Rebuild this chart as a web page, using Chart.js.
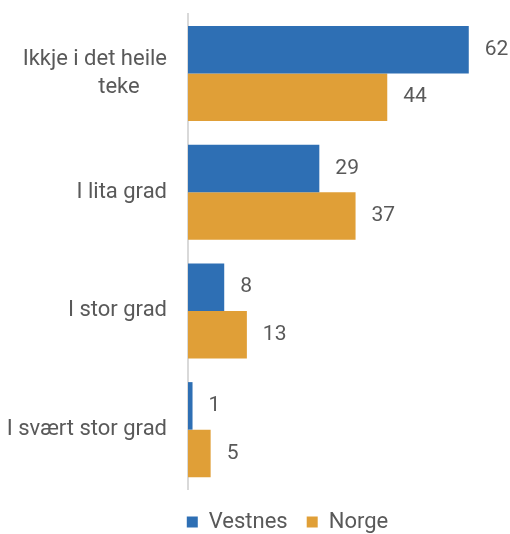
<!DOCTYPE html>
<html>
<head>
<meta charset="utf-8">
<script src="https://cdn.jsdelivr.net/npm/chart.js@4/dist/chart.umd.min.js"></script>
<style>
  html, body { margin: 0; padding: 0; background: #fff; }
  #wrap { width: 510px; height: 534px; }
</style>
</head>
<body>
<div id="wrap"><canvas id="chart" width="510" height="534"></canvas></div>
<script>
// values
// (second line of first label padded so the two lines sit centred on each other)
const categories = [["Ikkje i det heile", "teke\u00a0\u00a0\u00a0\u00a0\u00a0"], "I lita grad", "I stor grad", "I svært stor grad"];
const vestnes = [62, 29, 8, 1];
const norge = [44, 37, 13, 5];

const FONT = "Roboto, 'Open Sans', sans-serif";
const TEXT = "#595959";

// draws the number to the right of each bar
const valueLabels = {
  id: "valueLabels",
  afterDatasetsDraw(chart) {
    const ctx = chart.ctx;
    ctx.save();
    ctx.font = "21px " + FONT;
    ctx.fillStyle = TEXT;
    ctx.textAlign = "left";
    ctx.textBaseline = "middle";
    chart.data.datasets.forEach((ds, i) => {
      chart.getDatasetMeta(i).data.forEach((bar, j) => {
        ctx.fillText(ds.data[j], bar.x + 16, bar.y);
      });
    });
    ctx.restore();
  }
};

// the legend in the original sits a bit right of the canvas centre
const nudgeLegend = {
  id: "nudgeLegend",
  afterLayout(chart) {
    const lg = chart.legend;
    lg.left += 35; lg.right += 35;
    lg.top += 3; lg.bottom += 3;
  }
};

new Chart(document.getElementById("chart"), {
  type: "bar",
  data: {
    labels: categories,
    datasets: [
      { label: "Vestnes", data: vestnes, backgroundColor: "#2e6fb4" },
      { label: "Norge", data: norge, backgroundColor: "#e09f37" }
    ]
  },
  options: {
    indexAxis: "y",
    responsive: false,
    animation: false,
    datasets: { bar: { categoryPercentage: 0.8, barPercentage: 1.0 } },
    layout: { padding: { top: 14, right: 5, left: 0, bottom: -6 } },
    plugins: {
      legend: {
        position: "bottom",
        labels: {
          boxWidth: 11, boxHeight: 11, padding: 19,
          color: TEXT, font: { family: FONT, size: 22 }
        }
      },
      tooltip: { enabled: false }
    },
    scales: {
      x: { display: false, min: 0, max: 70 },
      y: {
        grid: { display: false, drawTicks: false },
        border: { display: true, color: "#d9d9d9", width: 2 },
        ticks: { color: TEXT, padding: 21, font: { family: FONT, size: 22, lineHeight: 1.27 } },
        afterFit(scale) {
          scale.width = 188;
          scale.paddingTop = 0;
          scale.paddingBottom = 0;
        }
      }
    }
  },
  plugins: [valueLabels, nudgeLegend]
});
</script>
</body>
</html>
